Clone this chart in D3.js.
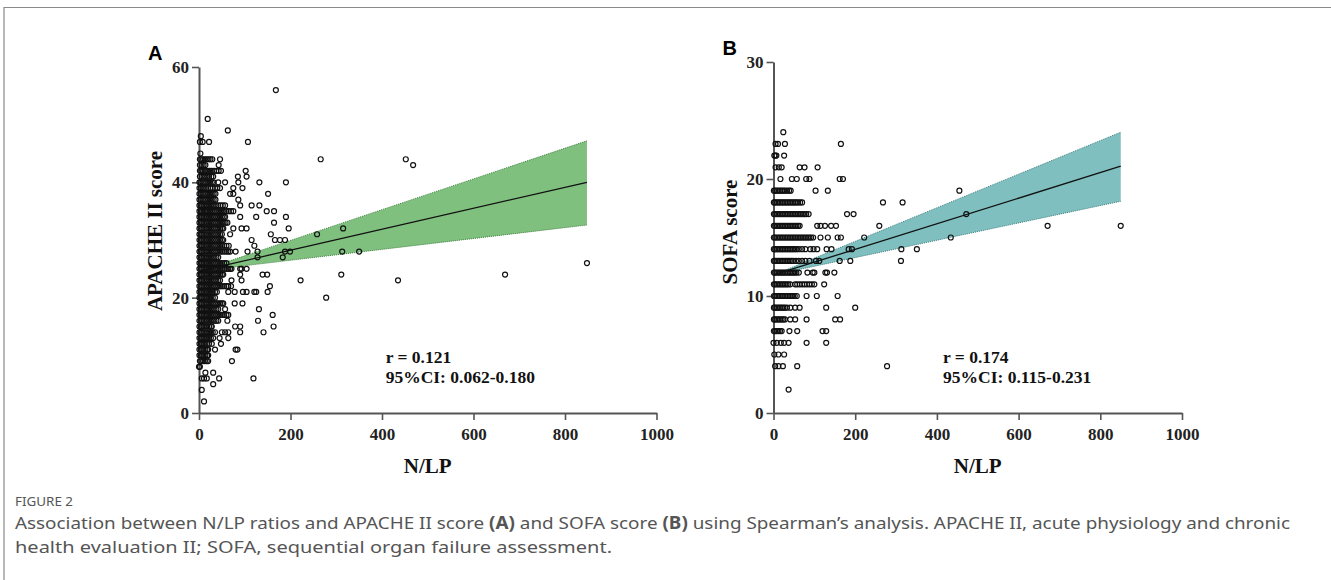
<!DOCTYPE html>
<meta charset="utf-8">
<script src="https://d3js.org/d3.v7.min.js"></script>
<style>
  body { margin: 0; background: #fff; }
  .lbl { font-family: "Liberation Serif", "Times New Roman", serif; font-weight: bold; fill: #111; }
</style>
<div id="fig"></div>
<script>
  // ---- data ----
  var xTicks = [0, 200, 400, 600, 800, 1000];
  var apacheTicks = [0, 20, 40, 60];
  var sofaTicks = [0, 10, 20, 30];

  // APACHE II: [score, N/LP values at that score]
  var apacheRows = [
    [56, [168]],
    [51, [19]],
    [49, [63]],
    [48, [4]],
    [47, [2, 8, 22, 107]],
    [45, [3]],
    [44, [2, 5, 9, 13, 17, 21, 25, 29, 46, 266, 452]],
    [43, [2, 6, 10, 14, 43, 468]],
    [42, [2, 5, 8, 12, 16, 20, 24, 28, 33, 38, 43, 48, 102]],
    [41, [2, 6, 10, 14, 18, 22, 27, 31, 85, 104]],
    [40, [1, 4, 8, 12, 16, 20, 24, 28, 32, 42, 57, 86, 132, 190]],
    [39, [1, 4, 8, 12, 16, 20, 25, 30, 35, 40, 46, 75, 95]],
    [38, [1, 4, 8, 12, 16, 20, 24, 28, 32, 36, 68, 75, 151]],
    [37, [1, 4, 8, 12, 16, 20, 24, 28, 32, 36, 86]],
    [36, [1, 4, 7, 10, 14, 18, 22, 26, 30, 34, 38, 42, 47, 52, 57, 90, 115, 132]],
    [35, [1, 4, 7, 10, 13, 16, 20, 24, 28, 32, 36, 40, 44, 48, 52, 56, 60, 65, 70, 75, 148, 164]],
    [34, [1, 4, 7, 10, 14, 18, 22, 26, 30, 34, 38, 42, 46, 50, 54, 57, 90, 125, 190]],
    [33, [1, 4, 7, 10, 14, 18, 22, 26, 30, 34, 38, 42, 46, 50, 54, 58, 62, 164]],
    [32, [1, 4, 7, 10, 14, 18, 22, 26, 30, 34, 38, 42, 46, 50, 53, 75, 93, 104, 196, 315]],
    [31, [1, 4, 7, 10, 14, 18, 22, 26, 30, 34, 38, 42, 46, 50, 68, 157, 258]],
    [30, [1, 4, 7, 10, 14, 18, 22, 26, 30, 34, 38, 42, 46, 50, 53, 115, 166, 177, 188]],
    [29, [1, 4, 7, 10, 14, 18, 22, 26, 30, 34, 38, 42, 46, 50, 55, 60, 65, 121]],
    [28, [1, 4, 7, 10, 14, 18, 22, 26, 30, 34, 38, 42, 46, 50, 55, 60, 64, 68, 80, 106, 128, 188, 199, 313, 350]],
    [27, [1, 4, 7, 10, 14, 18, 22, 26, 30, 34, 38, 42, 128, 183]],
    [26, [1, 4, 7, 10, 14, 18, 22, 26, 30, 34, 38, 42, 46, 50, 55, 60, 848]],
    [25, [1, 4, 7, 10, 14, 18, 22, 26, 30, 34, 38, 42, 46, 50, 55, 60, 64, 68, 71, 90, 93, 104]],
    [24, [1, 4, 7, 10, 14, 18, 22, 26, 30, 34, 38, 42, 46, 50, 53, 90, 139, 149, 311, 669]],
    [23, [1, 4, 7, 10, 14, 18, 22, 26, 30, 34, 38, 42, 46, 71, 93, 222, 435]],
    [22, [1, 4, 7, 10, 14, 18, 22, 26, 30, 34, 38, 42, 46, 50, 55, 60, 64, 70, 155]],
    [21, [1, 4, 7, 10, 14, 18, 22, 26, 30, 35, 39, 64, 78, 96, 104, 121, 125, 150]],
    [20, [1, 4, 7, 10, 14, 18, 22, 26, 30, 35, 278]],
    [19, [1, 4, 7, 10, 14, 18, 22, 26, 30, 34, 38, 42, 46, 50, 53, 78, 95]],
    [18, [1, 4, 7, 10, 14, 18, 22, 26, 30, 34, 38, 42, 57, 131]],
    [17, [1, 4, 7, 10, 14, 18, 22, 26, 30, 34, 38, 42, 46, 50, 55, 60, 64, 161]],
    [16, [1, 4, 7, 10, 14, 18, 22, 26, 30, 34, 38, 42, 62, 129]],
    [15, [1, 4, 7, 10, 14, 18, 22, 26, 28, 79, 90, 163]],
    [14, [1, 4, 7, 10, 14, 18, 22, 26, 30, 35, 50, 57, 64, 90, 141]],
    [13, [1, 4, 7, 10, 14, 18, 22, 26, 31, 45, 64]],
    [12, [1, 4, 7, 10, 14, 18, 22, 28, 48]],
    [11, [1, 4, 7, 10, 14, 18, 20, 35, 80, 84]],
    [10, [1, 4, 7, 10, 14, 18, 20]],
    [9, [2, 5, 9, 13, 17, 20, 72]],
    [8, [0, 2]],
    [7, [14, 31]],
    [6, [6, 11, 17, 44, 119]],
    [5, [31]],
    [4, [6]],
    [2, [11]]
  ];

  // SOFA: [score, N/LP values at that score]
  var sofaRows = [
    [24, [24]],
    [23, [5, 11, 28, 165]],
    [22, [2, 5, 7, 26]],
    [21, [5, 13, 20, 64, 76, 108]],
    [20, [17, 45, 57, 80, 88, 162, 170]],
    [19, [1, 4, 8, 12, 16, 20, 24, 28, 33, 38, 42, 103, 133, 455]],
    [18, [1, 4, 8, 12, 16, 20, 24, 28, 32, 36, 40, 44, 48, 52, 56, 60, 65, 70, 268, 316]],
    [17, [1, 4, 8, 12, 16, 20, 24, 28, 32, 36, 40, 44, 48, 52, 56, 60, 64, 68, 72, 76, 80, 86, 180, 196, 472]],
    [16, [1, 4, 8, 12, 16, 20, 24, 28, 32, 36, 40, 44, 48, 52, 56, 60, 64, 107, 115, 126, 141, 153, 259, 671, 850]],
    [15, [1, 4, 8, 12, 16, 20, 24, 28, 32, 36, 40, 44, 48, 52, 56, 60, 64, 68, 72, 76, 80, 84, 88, 92, 97, 115, 133, 157, 165, 222, 434]],
    [14, [1, 4, 8, 12, 16, 20, 24, 28, 32, 36, 40, 44, 48, 52, 56, 62, 70, 78, 90, 98, 107, 130, 142, 184, 192, 313, 351]],
    [13, [1, 4, 8, 12, 16, 20, 24, 28, 32, 36, 40, 44, 48, 55, 62, 70, 78, 88, 104, 112, 162, 188, 312]],
    [12, [1, 4, 8, 12, 16, 20, 24, 28, 32, 36, 40, 44, 48, 52, 56, 62, 83, 96, 100, 127, 131, 149]],
    [11, [1, 4, 8, 12, 16, 20, 24, 28, 32, 36, 41, 53, 58, 64, 70, 76, 82, 88, 94, 100, 124]],
    [10, [1, 4, 8, 12, 16, 20, 24, 28, 32, 36, 40, 44, 48, 52, 57, 81, 106, 157]],
    [9, [1, 4, 8, 12, 16, 20, 24, 28, 33, 41, 53, 64, 129, 200]],
    [8, [1, 4, 8, 12, 16, 20, 24, 28, 41, 53, 81, 151, 163]],
    [7, [1, 4, 8, 12, 16, 20, 39, 58, 120, 129]],
    [6, [0, 8, 18, 26, 37, 81, 129]],
    [5, [2, 12, 26]],
    [4, [4, 12, 23, 58, 278]],
    [2, [37]]
  ];

  // regression line and 95% band: [N/LP, lower, fit, upper]
  var apacheFit = [[0, 24.6, 24.6, 24.6], [848, 32.6, 40.0, 47.2]];
  var sofaFit = [[0, 11.8, 11.8, 11.8], [850, 18.1, 21.1, 24.0]];

  var svg = d3.select("#fig").append("svg")
    .attr("width", 1331)
    .attr("height", 580);

  // frame lines of the figure box
  svg.append("path")
    .attr("d", "M4,580V7.5H1331")
    .attr("fill", "none")
    .attr("stroke", "#8a8a8a")
    .attr("stroke-width", 1.2);

  function panel(opt) {
    var x = d3.scaleLinear().domain([0, 1000]).range([opt.left, opt.right]);
    var y = d3.scaleLinear().domain([0, opt.ymax]).range([413, opt.top]);
    var g = svg.append("g");

    // axes
    var ax = g.append("g")
      .attr("transform", "translate(0,413)")
      .call(d3.axisBottom(x).tickValues(xTicks).tickFormat(d3.format("d"))
        .tickSize(7).tickPadding(8).tickSizeOuter(0));
    var ay = g.append("g")
      .attr("transform", "translate(" + opt.left + ",0)")
      .call(d3.axisLeft(y).tickValues(opt.yTicks).tickSize(7).tickPadding(3).tickSizeOuter(0));
    [ax, ay].forEach(function(a) {
      a.select(".domain").attr("stroke", "#555").attr("stroke-width", 2);
      a.selectAll(".tick line").attr("stroke", "#555").attr("stroke-width", 1.6);
      a.selectAll(".tick text")
        .style("font-family", "'Liberation Serif', 'Times New Roman', serif")
        .style("font-weight", "bold")
        .style("font-size", "17px")
        .attr("fill", "#222");
    });

    // confidence band
    g.append("path")
      .datum(opt.fit)
      .attr("fill", opt.fill)
      .attr("d", d3.area()
        .x(function(d) { return x(d[0]); })
        .y0(function(d) { return y(d[1]); })
        .y1(function(d) { return y(d[3]); }));
    [1, 3].forEach(function(k) {
      g.append("path")
        .datum(opt.fit)
        .attr("fill", "none")
        .attr("stroke", opt.edge)
        .attr("stroke-width", 1)
        .attr("stroke-dasharray", "1,1")
        .attr("d", d3.line()
          .x(function(d) { return x(d[0]); })
          .y(function(d) { return y(d[k]); }));
    });
    g.append("path")
      .datum(opt.fit)
      .attr("fill", "none")
      .attr("stroke", "#111")
      .attr("stroke-width", 1.3)
      .attr("d", d3.line()
        .x(function(d) { return x(d[0]); })
        .y(function(d) { return y(d[2]); }));

    // points
    var pts = [];
    opt.rows.forEach(function(r) {
      r[1].forEach(function(v) { pts.push([v, r[0]]); });
    });
    g.selectAll("circle.pt")
      .data(pts)
      .enter().append("circle")
      .attr("class", "pt")
      .attr("cx", function(d) { return x(d[0]); })
      .attr("cy", function(d) { return y(d[1]); })
      .attr("r", 2.5)
      .attr("fill", "none")
      .attr("stroke", "#111")
      .attr("stroke-width", 1.2);

    // labels
    g.append("text")
      .attr("x", opt.left - 51).attr("y", opt.top - 7)
      .style("font-family", "'Liberation Sans', Arial, sans-serif")
      .style("font-weight", "bold").style("font-size", "20px")
      .text(opt.letter);
    g.append("text").attr("class", "lbl")
      .attr("x", (opt.left + opt.right) / 2).attr("y", 473)
      .attr("text-anchor", "middle").style("font-size", "21px")
      .text("N/LP");
    g.append("text").attr("class", "lbl")
      .attr("transform", "translate(" + (opt.left - 37) + "," + opt.ylabelY + ") rotate(-90)")
      .attr("text-anchor", "middle").style("font-size", "21px")
      .text(opt.ylabel);
    g.append("text").attr("class", "lbl")
      .attr("x", x(opt.annX)).attr("y", 363).style("font-size", "17.5px")
      .text(opt.r);
    g.append("text").attr("class", "lbl")
      .attr("x", x(opt.annX)).attr("y", 383).style("font-size", "17.5px")
      .text(opt.ci);
  }

  panel({ left: 199, right: 656.5, top: 67, ymax: 60, yTicks: apacheTicks, rows: apacheRows,
    fit: apacheFit, fill: "#80c07f", edge: "#3f7f3f", letter: "A", ylabel: "APACHE II score", ylabelY: 231,
    annX: 408, r: "r = 0.121", ci: "95%CI: 0.062-0.180" });
  panel({ left: 773.5, right: 1182, top: 62, ymax: 30, yTicks: sofaTicks, rows: sofaRows,
    fit: sofaFit, fill: "#7fbfbf", edge: "#3f7f7f", letter: "B", ylabel: "SOFA score", ylabelY: 232,
    annX: 415, r: "r = 0.174", ci: "95%CI: 0.115-0.231" });

  // caption
  var cap = svg.append("g").style("font-family", "'Noto Sans', 'Open Sans', sans-serif").style("fill", "#555");
  cap.append("text").attr("x", 15).attr("y", 506).style("font-size", "12.5px")
    .attr("textLength", 58).attr("lengthAdjust", "spacingAndGlyphs").text("FIGURE 2");
  var l1 = cap.append("text").attr("x", 15).attr("y", 529).style("font-size", "17px")
    .attr("textLength", 1275).attr("lengthAdjust", "spacingAndGlyphs");
  l1.append("tspan").text("Association between N/LP ratios and APACHE II score ");
  l1.append("tspan").style("font-weight", "bold").text("(A)");
  l1.append("tspan").text(" and SOFA score ");
  l1.append("tspan").style("font-weight", "bold").text("(B)");
  l1.append("tspan").text(" using Spearman\u2019s analysis. APACHE II, acute physiology and chronic");
  cap.append("text").attr("x", 15).attr("y", 553).style("font-size", "17px")
    .attr("textLength", 597).attr("lengthAdjust", "spacingAndGlyphs")
    .text("health evaluation II; SOFA, sequential organ failure assessment.");
</script>
